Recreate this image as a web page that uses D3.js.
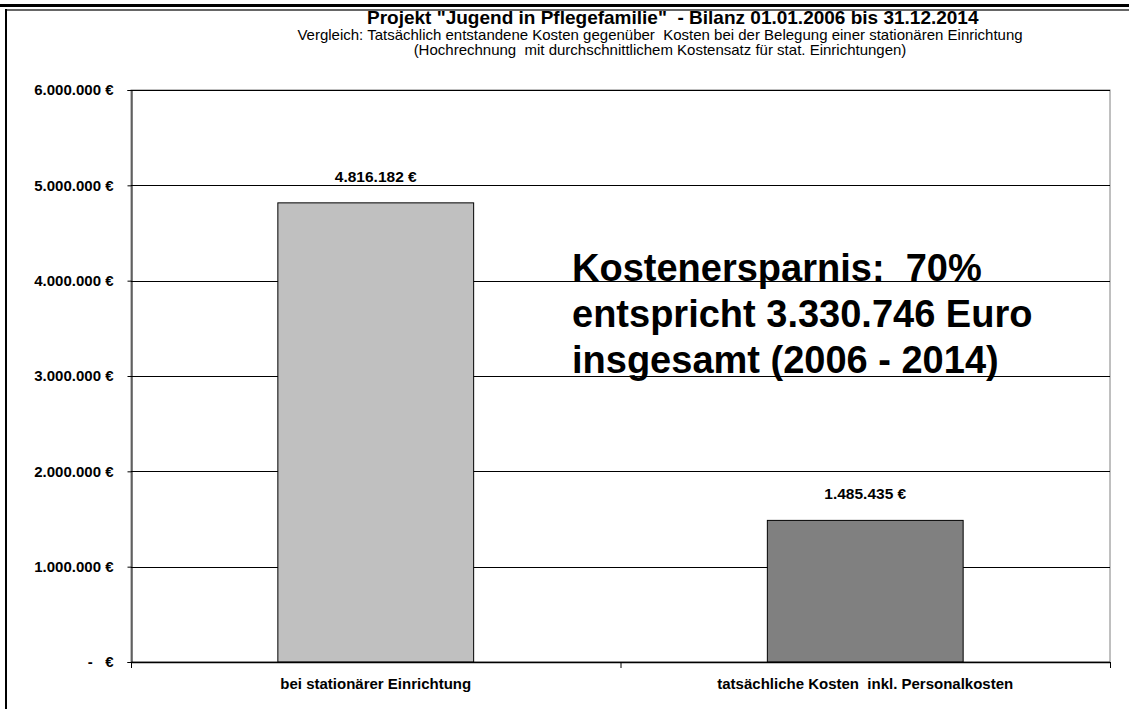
<!DOCTYPE html>
<html>
<head>
<meta charset="utf-8">
<script src="https://cdn.jsdelivr.net/npm/d3@7"></script>
<style>
  body { margin: 0; background: #fff; }
  svg { display: block; font-family: "Liberation Sans", Arial, sans-serif; }
</style>
</head>
<body>
<div id="chart"></div>
<script>
// chart data
const categories = ["bei stationärer Einrichtung", "tatsächliche Kosten  inkl. Personalkosten"];
const values = [4816182, 1485435];
const barColors = ["#c0c0c0", "#808080"];
const yTicks = [0, 1000000, 2000000, 3000000, 4000000, 5000000, 6000000];
const titleText = 'Projekt "Jugend in Pflegefamilie"  - Bilanz 01.01.2006 bis 31.12.2014';
const subtitleLines = [
    "Vergleich: Tatsächlich entstandene Kosten gegenüber  Kosten bei der Belegung einer stationären Einrichtung",
    "(Hochrechnung  mit durchschnittlichem Kostensatz für stat. Einrichtungen)"
];
const noteLines = ["Kostenersparnis:  70%", "entspricht 3.330.746 Euro", "insgesamt (2006 - 2014)"];

const width = 1129, height = 709;
const plot = { left: 131, right: 1110, top: 90, bottom: 662 };

const de = d3.formatLocale({ decimal: ",", thousands: ".", grouping: [3], currency: ["", "€"] });
const fmt = de.format(",.0f");
const euro = d => d === 0 ? "-   €" : fmt(d) + " €";

const svg = d3.select("#chart").append("svg")
    .attr("width", width)
    .attr("height", height);

// outer frame of the chart area
svg.append("line").attr("x1", 0).attr("x2", width).attr("y1", 5.5).attr("y2", 5.5)
    .attr("stroke", "#000").attr("stroke-width", 3);
svg.append("line").attr("x1", 6).attr("x2", width).attr("y1", 10).attr("y2", 10)
    .attr("stroke", "#333").attr("stroke-width", 1.5);
svg.append("line").attr("x1", 6).attr("x2", 6).attr("y1", 9).attr("y2", height)
    .attr("stroke", "#000").attr("stroke-width", 2);

const x = d3.scaleBand()
    .domain(categories)
    .range([plot.left, plot.right])
    .padding(0);

const y = d3.scaleLinear()
    .domain([0, 6000000])
    .range([plot.bottom, plot.top]);

// plot area border (gray)
svg.append("rect")
    .attr("x", plot.left).attr("y", plot.top)
    .attr("width", plot.right - plot.left).attr("height", plot.bottom - plot.top)
    .attr("fill", "none").attr("stroke", "#808080").attr("stroke-width", 1);

// gridlines
svg.append("g")
    .selectAll("line")
    .data(yTicks.filter(d => d > 0))
    .join("line")
    .attr("x1", plot.left).attr("x2", plot.right)
    .attr("y1", d => Math.round(y(d)) + 0.5).attr("y2", d => Math.round(y(d)) + 0.5)
    .attr("stroke", "#000").attr("stroke-width", 1);

// bars
const barW = x.bandwidth() * 0.4;
svg.append("g")
    .selectAll("rect")
    .data(values)
    .join("rect")
    .attr("x", (d, i) => x(categories[i]) + (x.bandwidth() - barW) / 2)
    .attr("y", d => y(d))
    .attr("width", barW)
    .attr("height", d => y(0) - y(d))
    .attr("fill", (d, i) => barColors[i])
    .attr("stroke", "#000")
    .attr("stroke-width", 1);

// value labels
svg.append("g")
    .selectAll("text")
    .data(values)
    .join("text")
    .attr("x", (d, i) => x(categories[i]) + x.bandwidth() / 2)
    .attr("y", d => y(d) - 21)
    .attr("text-anchor", "middle")
    .attr("font-size", 15.5)
    .attr("font-weight", "bold")
    .text(d => euro(d));

// y axis
const yAxis = d3.axisLeft(y)
    .tickValues(yTicks)
    .tickSize(4)
    .tickPadding(14)
    .tickFormat(euro);
const gy = svg.append("g")
    .attr("transform", `translate(${plot.left + 0.5},0)`)
    .call(yAxis);
gy.select(".domain").attr("stroke", "#000");
gy.selectAll(".tick line").attr("stroke", "#000");
gy.selectAll(".tick text")
    .attr("font-family", "Liberation Sans, Arial, sans-serif")
    .attr("font-size", 15)
    .attr("font-weight", "bold")
    .attr("fill", "#000")
    .style("white-space", "pre");

// x axis
svg.append("line")
    .attr("x1", plot.left).attr("x2", plot.right)
    .attr("y1", plot.bottom + 0.5).attr("y2", plot.bottom + 0.5)
    .attr("stroke", "#000").attr("stroke-width", 1.5);
const edges = categories.map(c => x(c)).concat([plot.right]);
svg.append("g")
    .selectAll("line")
    .data(edges)
    .join("line")
    .attr("x1", d => d + 0.5).attr("x2", d => d + 0.5)
    .attr("y1", plot.bottom).attr("y2", plot.bottom + 6)
    .attr("stroke", "#000");
svg.append("g")
    .selectAll("text")
    .data(categories)
    .join("text")
    .attr("x", d => x(d) + x.bandwidth() / 2)
    .attr("y", 689)
    .attr("text-anchor", "middle")
    .attr("font-size", 15)
    .attr("font-weight", "bold")
    .style("white-space", "pre")
    .text(d => d);

// titles
svg.append("text")
    .attr("x", 367).attr("y", 24)
    .attr("font-size", 19)
    .attr("font-weight", "bold")
    .style("white-space", "pre")
    .text(titleText);
svg.append("g")
    .selectAll("text")
    .data(subtitleLines)
    .join("text")
    .attr("x", 660)
    .attr("y", (d, i) => 40 + i * 15)
    .attr("text-anchor", "middle")
    .attr("font-size", 15)
    .style("white-space", "pre")
    .text(d => d);

// savings note
svg.append("g")
    .selectAll("text")
    .data(noteLines)
    .join("text")
    .attr("x", 572)
    .attr("y", (d, i) => 281 + i * 46)
    .attr("font-size", 38)
    .attr("font-weight", "bold")
    .style("white-space", "pre")
    .text(d => d);
</script>
</body>
</html>
